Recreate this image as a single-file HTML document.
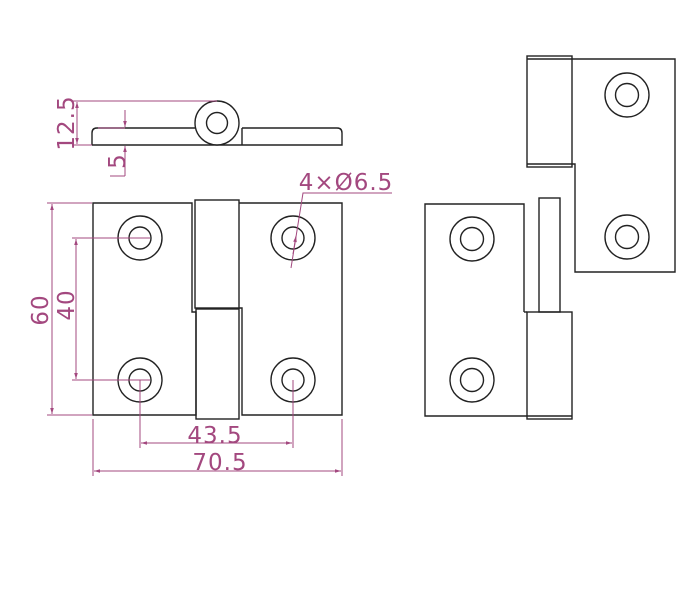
<!DOCTYPE html>
<html><head><style>html,body{margin:0;padding:0;background:#fff}svg{display:block}</style></head>
<body>
<svg width="700" height="600" viewBox="0 0 700 600" xmlns="http://www.w3.org/2000/svg">
<defs>
<marker id="a" viewBox="0 0 10 10" refX="10" refY="5" markerWidth="8" markerHeight="6" orient="auto-start-reverse"><path d="M0,2 L10,5 L0,8 z" fill="#a3487f"/></marker>
</defs>
<g fill="none" stroke="#222" stroke-width="1.4">
<path d="M92,145 L92,133 Q92,128 97,128 L217,128 M242,128 L337,128 Q342,128 342,133 L342,145 L92,145 M242,128 L242,145"/>
<circle cx="217" cy="123" r="22" fill="#fff"/>
<circle cx="217" cy="123" r="10.5"/>
<path d="M93,203 L192,203 L192,312 L196,312 L196,415 L93,415 Z"/>
<rect x="195" y="200" width="44" height="108"/>
<rect x="196" y="309" width="43" height="110"/>
<path d="M239,203 L342,203 L342,415 L242,415 L242,308 L239,308"/>
<circle cx="140" cy="238" r="22"/><circle cx="140" cy="238" r="11"/>
<circle cx="140" cy="380" r="22"/><circle cx="140" cy="380" r="11"/>
<circle cx="293" cy="238" r="22"/><circle cx="293" cy="238" r="11"/>
<circle cx="293" cy="380" r="22"/><circle cx="293" cy="380" r="11"/>
<rect x="527" y="56" width="45" height="111"/>
<path d="M527,59 L572,59 M527,164 L572,164"/>
<path d="M572,59 L675,59 L675,272 L575,272 L575,164 L572,164"/>
<circle cx="627" cy="95" r="22"/><circle cx="627" cy="95" r="11.5"/>
<circle cx="627" cy="237" r="22"/><circle cx="627" cy="237" r="11.5"/>
<path d="M524,312 L524,204 L425,204 L425,416 L527,416"/>
<path d="M524,312 L527,312"/>
<rect x="539" y="198" width="21" height="114"/>
<rect x="527" y="312" width="45" height="107"/>
<path d="M527,416 L572,416"/>
<circle cx="472" cy="239" r="22"/><circle cx="472" cy="239" r="11.5"/>
<circle cx="472" cy="380" r="22"/><circle cx="472" cy="380" r="11.5"/>
</g>
<g fill="none" stroke="#a3487f" stroke-width="1">
<path d="M72,101 L217,101 M72,145 L92,145"/>
<path d="M77,102 L77,144" marker-start="url(#a)" marker-end="url(#a)"/>
<path d="M98,128 L125,128"/>
<path d="M125,110 L125,127" marker-end="url(#a)"/>
<path d="M125,176 L125,146" marker-end="url(#a)"/>
<path d="M110,176 L125,176"/>
<path d="M47,203 L92,203 M47,415 L92,415"/>
<path d="M52,204 L52,414" marker-start="url(#a)" marker-end="url(#a)"/>
<path d="M72,238 L150,238 M72,380 L150,380"/>
<path d="M76,239 L76,379" marker-start="url(#a)" marker-end="url(#a)"/>
<path d="M140,380 L140,448 M293,380 L293,448"/>
<path d="M141,443 L292,443" marker-start="url(#a)" marker-end="url(#a)"/>
<path d="M93,419 L93,476 M342,419 L342,476"/>
<path d="M94,471 L341,471" marker-start="url(#a)" marker-end="url(#a)"/>
<path d="M291,268 L303,193 L392,193"/>
<path d="M296,236 L293,254" marker-start="url(#a)"/>
</g>
<g fill="#a3487f" font-family="DejaVu Sans, sans-serif" font-size="23" letter-spacing="1">
<text transform="translate(74,123) rotate(-90)" text-anchor="middle">12.5</text>
<text transform="translate(125,161) rotate(-90)" text-anchor="middle">5</text>
<text transform="translate(48,310) rotate(-90)" text-anchor="middle">60</text>
<text transform="translate(74,305) rotate(-90)" text-anchor="middle">40</text>
<text x="215" y="443" text-anchor="middle">43.5</text>
<text x="220" y="470" text-anchor="middle">70.5</text>
<text x="346" y="190" text-anchor="middle">4×Ø6.5</text>
</g>
</svg>
</body></html>
